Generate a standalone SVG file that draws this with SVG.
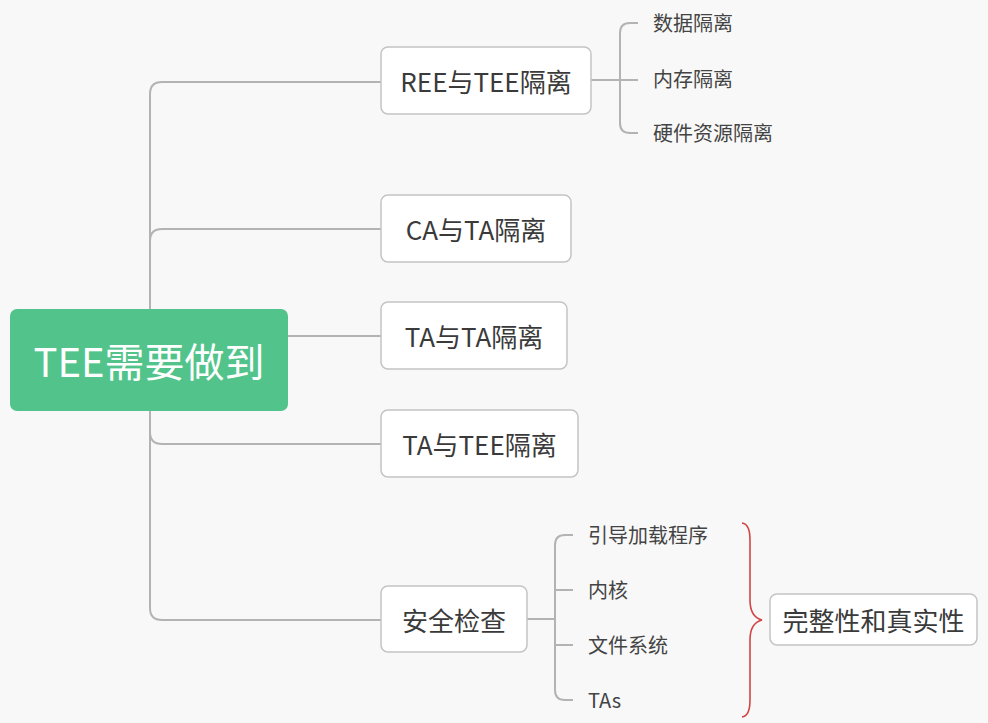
<svg xmlns="http://www.w3.org/2000/svg" width="988" height="723" viewBox="0 0 988 723">
<style>
text{font-family:"Noto Sans CJK SC","Microsoft YaHei","Noto Sans",sans-serif;dominant-baseline:central}
.conn path{fill:none;stroke:#b3b3b3;stroke-width:2}
.box{fill:#fff;stroke:#c4c4c4;stroke-width:1.5}
.t2{font-size:26px;fill:#3a3a3a;text-anchor:middle}
.t3{font-size:20px;fill:#444}
</style>
<rect width="988" height="723" fill="#f8f8f8"/>
<g class="conn" id="connectors">
<path d="M150,309 V94 Q150,82 162,82 H381"/>
<path d="M150,309 V241 Q150,229 162,229 H381"/>
<path d="M288,336 H381"/>
<path d="M150,411 V432 Q150,444 162,444 H381"/>
<path d="M150,411 V608 Q150,620 162,620 H381"/>
<path d="M591,80 H638"/>
<path d="M638,23 H630 Q620,23 620,33 V123 Q620,133 630,133 H638"/>
<path d="M527,619 H555"/>
<path d="M573,535 H565 Q555,535 555,545 V690 Q555,700 565,700 H573"/>
<path d="M555,590 H573"/>
<path d="M555,645 H573"/>
<path d="M742,523 Q750,524 750,540 V600 Q750,617 762,620 Q750,623 750,640 V700 Q750,716 742,717" style="stroke:#d24545;stroke-width:1.6"/>
</g>
<g id="root">
<rect x="10" y="309" width="278" height="102" rx="7" fill="#52c48b"/>
<text x="149" y="360" font-size="40" fill="#fff" text-anchor="middle">TEE需要做到</text>
</g>
<g id="n-ree">
<rect class="box" x="381" y="47" width="210" height="67" rx="7"/>
<text class="t2" x="486" y="80">REE与TEE隔离</text>
</g>
<g id="n-ca">
<rect class="box" x="381" y="195" width="190" height="67" rx="7"/>
<text class="t2" x="476" y="228">CA与TA隔离</text>
</g>
<g id="n-tata">
<rect class="box" x="381" y="302" width="186" height="67" rx="7"/>
<text class="t2" x="474" y="335">TA与TA隔离</text>
</g>
<g id="n-tatee">
<rect class="box" x="381" y="410" width="197" height="67" rx="7"/>
<text class="t2" x="479.5" y="443">TA与TEE隔离</text>
</g>
<g id="n-sec">
<rect class="box" x="381" y="586" width="146" height="66" rx="7"/>
<text class="t2" x="454" y="619">安全检查</text>
</g>
<g id="n-integrity">
<rect class="box" x="770" y="594" width="207" height="51" rx="7"/>
<text class="t2" x="873.5" y="619">完整性和真实性</text>
</g>
<g id="s-data"><text class="t3" x="653" y="22">数据隔离</text></g>
<g id="s-mem"><text class="t3" x="653" y="78">内存隔离</text></g>
<g id="s-hw"><text class="t3" x="653" y="132">硬件资源隔离</text></g>
<g id="s-boot"><text class="t3" x="588" y="534">引导加载程序</text></g>
<g id="s-kernel"><text class="t3" x="588" y="589">内核</text></g>
<g id="s-fs"><text class="t3" x="588" y="644">文件系统</text></g>
<g id="s-tas"><text class="t3" x="588" y="699">TAs</text></g>
</svg>
